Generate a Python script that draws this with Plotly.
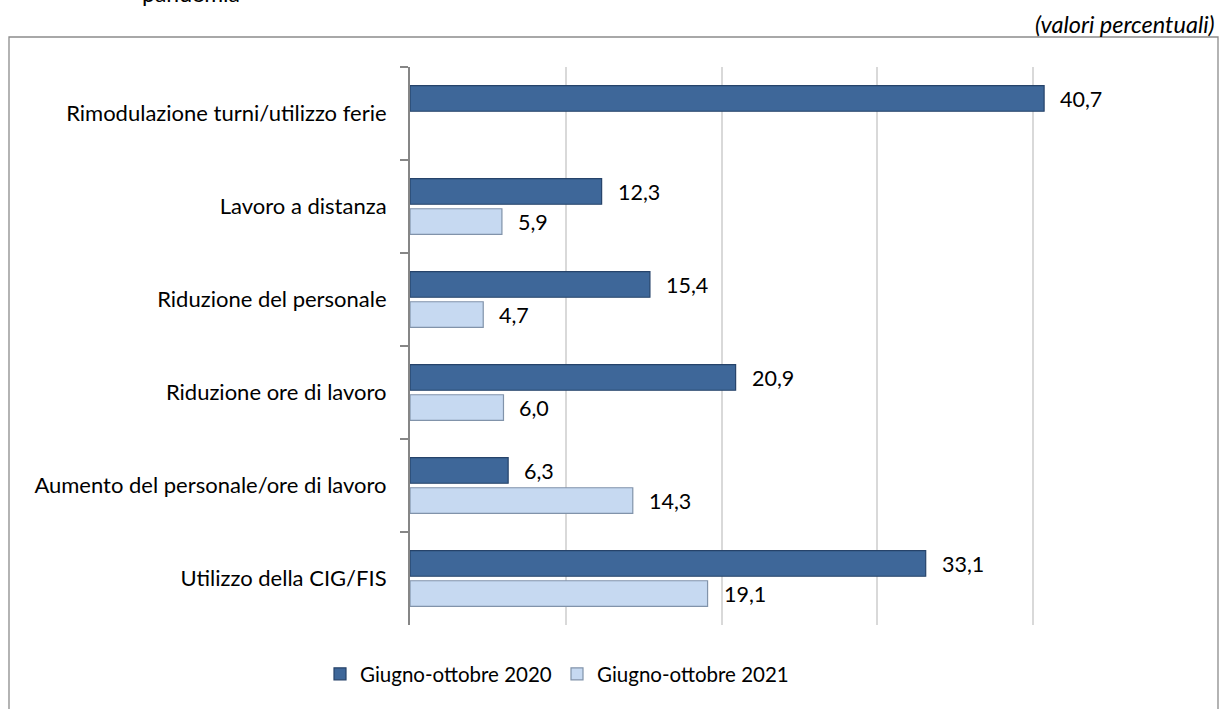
import plotly.graph_objects as go

# Categories, top to bottom
categorie = [
    "Rimodulazione turni/utilizzo ferie",
    "Lavoro a distanza",
    "Riduzione del personale",
    "Riduzione ore di lavoro",
    "Aumento del personale/ore di lavoro",
    "Utilizzo della CIG/FIS",
]
serie_2020 = [40.7, 12.3, 15.4, 20.9, 6.3, 33.1]
serie_2021 = [None, 5.9, 4.7, 6.0, 14.3, 19.1]
nome_2020 = "Giugno-ottobre 2020"
nome_2021 = "Giugno-ottobre 2021"

FONT = "Lato"
W, H = 1220, 709
L, R, T, B = 410, 31, 67, 84
PW, PH = W - L - R, H - T - B


def px_x(x):
    return (x - L) / PW


def px_y(y):
    return 1 - (y - T) / PH


def fmt(v):
    return f"{v:.1f}".replace(".", ",")


fig = go.Figure()
fig.add_trace(go.Bar(
    y=categorie, x=serie_2020, name=nome_2020, orientation="h",
    marker=dict(color="#3E6799", line=dict(color="#26436A", width=1.2)),
))
fig.add_trace(go.Bar(
    y=categorie, x=serie_2021, name=nome_2021, orientation="h",
    marker=dict(color="#C6D9F1", line=dict(color="#8193AA", width=1.2)),
))

# Value labels to the right of each bar
annotations = []
for serie, shift in ((serie_2020, 15), (serie_2021, -15)):
    for cat, v in zip(categorie, serie):
        if v is None:
            continue
        annotations.append(dict(
            x=v, y=cat, xref="x", yref="y", text=fmt(v), showarrow=False,
            xanchor="left", yanchor="middle", xshift=14, yshift=shift,
            font=dict(family=FONT, size=21.5, color="#000000"),
        ))

annotations.append(dict(
    x=px_x(1217), y=px_y(24), xref="paper", yref="paper",
    text="<i>(valori percentuali)</i>", showarrow=False,
    xanchor="right", yanchor="middle",
    font=dict(family=FONT, size=23.5, color="#000000"),
))
annotations.append(dict(
    x=px_x(140), y=px_y(9), xref="paper", yref="paper",
    text="pandemia", showarrow=False, xanchor="left", yanchor="bottom",
    font=dict(family=FONT, size=23, color="#000000"),
))

fig.update_layout(
    width=W, height=H,
    margin=dict(l=L, r=R, t=T, b=B),
    paper_bgcolor="white", plot_bgcolor="white",
    barmode="group", bargap=0.35, bargroupgap=0.15,
    font=dict(family=FONT, size=22, color="#000000"),
    annotations=annotations,
    legend=dict(
        orientation="h", x=px_x(320), xanchor="left",
        y=px_y(674), yanchor="middle",
        font=dict(family=FONT, size=20.5, color="#000000"),
        traceorder="normal", entrywidth=192, entrywidthmode="pixels",
    ),
    shapes=[dict(
        type="rect", xref="paper", yref="paper",
        x0=px_x(9), x1=px_x(1218), y0=px_y(740), y1=px_y(37),
        line=dict(color="#8C8C8C", width=1.3), fillcolor="rgba(0,0,0,0)",
        layer="below",
    )],
)
fig.update_xaxes(
    range=[0, 50], dtick=10, showgrid=True, gridcolor="#D9D9D9", gridwidth=1.5,
    zeroline=False, showticklabels=False, showline=False, ticks="",
)
fig.update_yaxes(
    autorange="reversed", showline=True, linecolor="#868686", linewidth=2,
    ticks="outside", ticklen=8, tickwidth=2, tickcolor="#868686",
    tickson="boundaries", showgrid=False, ticklabelstandoff=17,
    tickfont=dict(family=FONT, size=22, color="#000000"),
)

fig.write_html("out.html")
